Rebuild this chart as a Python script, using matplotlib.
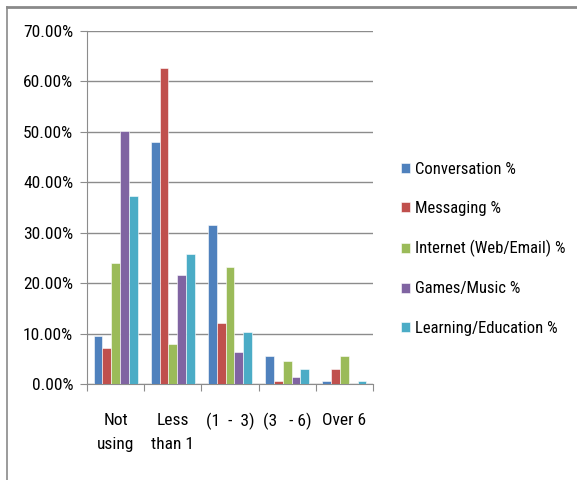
import matplotlib
matplotlib.use("Agg")
import matplotlib.pyplot as plt
from matplotlib.lines import Line2D
from matplotlib import font_manager
import numpy as np

# usage groups (hours) and share of users per activity
categories = ["Not\nusing", "Less\nthan 1", "(1  -  3)", "(3   - 6)", "Over 6"]
series_names = ["Conversation %", "Messaging %", "Internet (Web/Email) %",
                "Games/Music %", "Learning/Education %"]
conversation = [9.6, 47.9, 31.5, 5.5, 0.66]
messaging = [7.1, 62.6, 12.0, 0.66, 3.0]
internet = [24.0, 8.0, 23.3, 4.6, 5.5]
games = [50.1, 21.6, 6.3, 1.45, 0.0]
learning = [37.2, 25.8, 10.4, 3.0, 0.66]
colors = ["#4f81bd", "#c0504d", "#9bbb59", "#8064a2", "#4bacc6"]

# pick a narrow-ish face if one is around
names = {f.name for f in font_manager.fontManager.ttflist}
family = "DejaVu Sans"
for cand in ["Liberation Sans Narrow", "Roboto Condensed", "Open Sans Condensed", "Lato"]:
    if cand in names:
        family = cand
        break
plt.rcParams["font.family"] = [family, "DejaVu Sans"]
fs = 12.5 if family != "Lato" else 11.5

fig = plt.figure(figsize=(5.77, 4.8), dpi=100)
ax = fig.add_axes([87 / 577, 1 - 384 / 480, (373 - 87) / 577, (384 - 31) / 480])

x = np.arange(len(categories))
width = 0.154
all_series = [conversation, messaging, internet, games, learning]
for i, (vals, name, c) in enumerate(zip(all_series, series_names, colors)):
    ax.bar(x + (i - 2) * width, vals, width, color=c, label=name,
           edgecolor="white", linewidth=0.4, zorder=3)

ax.set_xlim(-0.5, len(categories) - 0.5)
ax.set_ylim(0, 70)
ax.set_yticks(np.arange(0, 71, 10))
ax.set_yticklabels([f"{v:.2f}%" for v in np.arange(0, 71, 10)], fontsize=fs)
ax.yaxis.grid(True, color="#8c8c8c", linewidth=1.0, zorder=0)

# category labels sit between boundary ticks
ax.set_xticks(np.arange(-0.5, len(categories)), minor=False)
ax.set_xticklabels([])
ax.set_xticks(x, minor=True)
ax.set_xticklabels(categories, minor=True, fontsize=fs, linespacing=1.7, va="top")
ax.tick_params(axis="x", which="minor", length=0, pad=21)
ax.tick_params(axis="x", which="major", length=5, color="#8c8c8c")
ax.tick_params(axis="y", length=5, color="#8c8c8c", pad=5)

for s in ["top", "right"]:
    ax.spines[s].set_visible(False)
for s in ["left", "bottom"]:
    ax.spines[s].set_color("#8c8c8c")

leg = fig.legend(loc="upper left", bbox_to_anchor=(394 / 577, 1 - 155 / 480),
                 frameon=False, fontsize=fs - 0.5, handlelength=0.55, handleheight=0.55,
                 handletextpad=0.3, labelspacing=1.45, borderaxespad=0)

# outer frame lines
fig.add_artist(Line2D([7 / 577, 1], [1 - 7 / 480, 1 - 7 / 480], color="#8a8a8a", linewidth=2))
fig.add_artist(Line2D([7 / 577, 7 / 577], [0, 1 - 7 / 480], color="#8a8a8a", linewidth=1.2))

fig.savefig("out.png", dpi=100)
